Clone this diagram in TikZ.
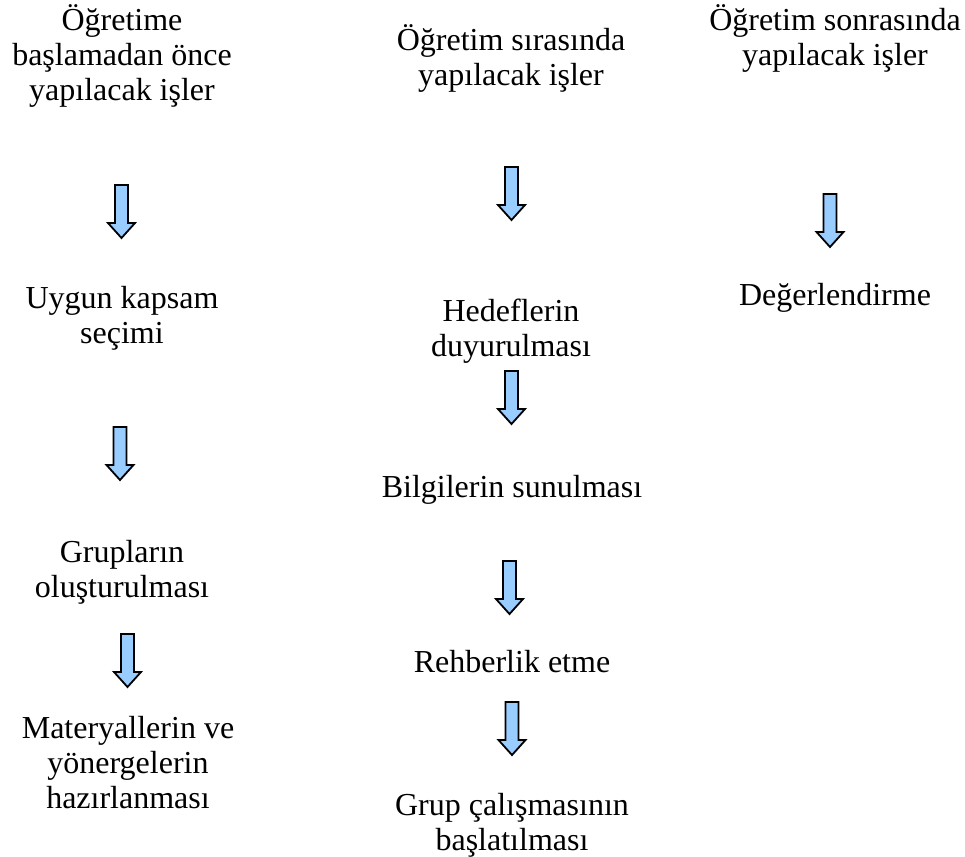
\documentclass[tikz,border=0pt]{standalone}
\usepackage{fontspec}
\setmainfont{Liberation Serif}

\tikzset{
  step text/.style={align=center, inner sep=0pt, font=\fontsize{32}{35}\selectfont},
  arrow fill/.style={draw=black, line width=1.8pt, fill=arrowblue, line join=miter},
  blockarrow/.pic={
    \draw[arrow fill] (-6.5,0) -- (6.5,0) -- (6.5,38) -- (13.5,38) -- (0,53)
      -- (-13.5,38) -- (-6.5,38) -- cycle;
  }
}
\definecolor{arrowblue}{RGB}{153,204,255}

\begin{document}
\begin{tikzpicture}[x=1pt, y=-1pt]
        \useasboundingbox (0,0) rectangle (965,856);
        % ==== COLUMN 1 ====
        \node[step text] (pre) at (122,56) {Öğretime\\başlamadan önce\\yapılacak işler};
        \pic (arr1) at (121.5,185) {blockarrow};
        \node[step text] (kapsam) at (122,318) {Uygun kapsam\\seçimi};
        \pic (arr2) at (120,427) {blockarrow};
        \node[step text] (grup) at (122,572) {Grupların\\oluşturulması};
        \pic (arr3) at (127.5,634) {blockarrow};
        \node[step text] (materyal) at (128,763) {Materyallerin ve\\yönergelerin\\hazırlanması};
        % ==== COLUMN 2 ====
        \node[step text] (sira) at (511,58) {Öğretim sırasında\\yapılacak işler};
        \pic (arr4) at (511.5,167) {blockarrow};
        \node[step text] (hedef) at (511,331) {Hedeflerin\\duyurulması};
        \pic (arr5) at (511.5,371) {blockarrow};
        \node[step text] (bilgi) at (512,490) {Bilgilerin sunulması};
        \pic (arr6) at (509.5,561) {blockarrow};
        \node[step text] (rehber) at (512,662) {Rehberlik etme};
        \pic (arr7) at (512,702) {blockarrow};
        \node[step text] (baslat) at (512,825) {Grup çalışmasının\\başlatılması};
        % ==== COLUMN 3 ====
        \node[step text] (sonra) at (835,38) {Öğretim sonrasında\\yapılacak işler};
        \pic (arr8) at (830,194) {blockarrow};
        \node[step text] (deger) at (835,298) {Değerlendirme};
\end{tikzpicture}
\end{document}
